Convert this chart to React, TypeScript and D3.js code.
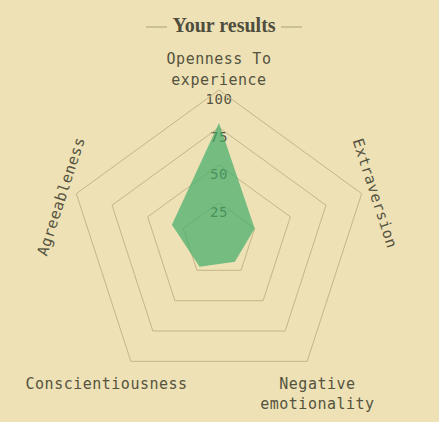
import React from "react";
import * as d3 from "d3";

const axes = ["Openness To experience", "Extraversion", "Negative emotionality", "Conscientiousness", "Agreeableness"];
const values = [78, 25, 18, 22, 33];
const levels = [25, 50, 75, 100];

const W = 439, H = 422;
const cx = 219, cy = 240, R = 150;
const BG = "#ede1b5";
const TXT = "#55533f";
const MONO = "'DejaVu Sans Mono', monospace";

export default function App() {
  const n = axes.length;
  const ang = (i: number) => (i * 2 * Math.PI) / n;
  const r = d3.scaleLinear().domain([0, 100]).range([0, R]);
  const pt = (i: number, v: number): [number, number] => [
    cx + r(v) * Math.sin(ang(i)),
    cy - r(v) * Math.cos(ang(i)),
  ];
  const line = d3.line<[number, number]>().curve(d3.curveLinearClosed);
  const gridPaths = levels.map((lv) => line(d3.range(n).map((i) => pt(i, lv)))!);
  const dataPath = line(values.map((v, i) => pt(i, v)))!;

  const lab = (i: number, extra: number) => {
    const a = ang(i);
    return [cx + (R + extra) * Math.sin(a), cy - (R + extra) * Math.cos(a)];
  };
  const [x0, y0] = lab(0, 10);
  const [x1, y1] = lab(1, 12);
  const [x2, y2] = lab(2, 20);
  const [x3, y3] = lab(3, 20);
  const [x4, y4] = lab(4, 12);
  const rot = (360 / n);

  return (
    <svg width={W} height={H} style={{ position: "absolute", left: 0, top: 0, background: BG }}>
      <rect width={W} height={H} fill={BG} />
      <g>
        <line x1={146} x2={167} y1={27} y2={27} stroke="#a9a27e" strokeWidth={1} />
        <line x1={281} x2={302} y1={27} y2={27} stroke="#a9a27e" strokeWidth={1} />
        <text x={224} y={32} textAnchor="middle" fontFamily="'Liberation Serif', serif" fontWeight="bold" fontSize={20} fill="#4f4d3d">Your results</text>
      </g>
      {levels.map((lv) => (
        <text key={"t" + lv} x={cx} y={cy - r(lv) + 14} textAnchor="middle" fontFamily={MONO} fontSize={14} letterSpacing={0.5} fill={TXT}>{lv}</text>
      ))}
      {gridPaths.map((d, k) => (
        <path key={k} d={d} fill="none" stroke="#c3b78a" strokeWidth={1} />
      ))}
      <path d={dataPath} fill="#42ac6a" fillOpacity={0.7} stroke="none" />
      <g fontFamily={MONO} fontSize={15} letterSpacing={0.5} fill={TXT}>
        <text x={x0} y={y0} textAnchor="middle">
          <tspan x={x0} dy={-16}>Openness To</tspan>
          <tspan x={x0} dy={21}>experience</tspan>
        </text>
        <text transform={`translate(${x1 - 3},${y1 + 5}) rotate(${rot})`} textAnchor="middle">Extraversion</text>
        <text x={x2} y={y2} textAnchor="middle">
          <tspan x={x2 - 1.5} dy={11.5}>Negative</tspan>
          <tspan x={x2 - 1.5} dy={20}>emotionality</tspan>
        </text>
        <text x={x3 - 12.5} y={y3 + 11.5} textAnchor="middle">Conscientiousness</text>
        <text transform={`translate(${x4 + 1},${y4 + 8}) rotate(${-rot})`} textAnchor="middle">Agreeableness</text>
      </g>
    </svg>
  );
}
